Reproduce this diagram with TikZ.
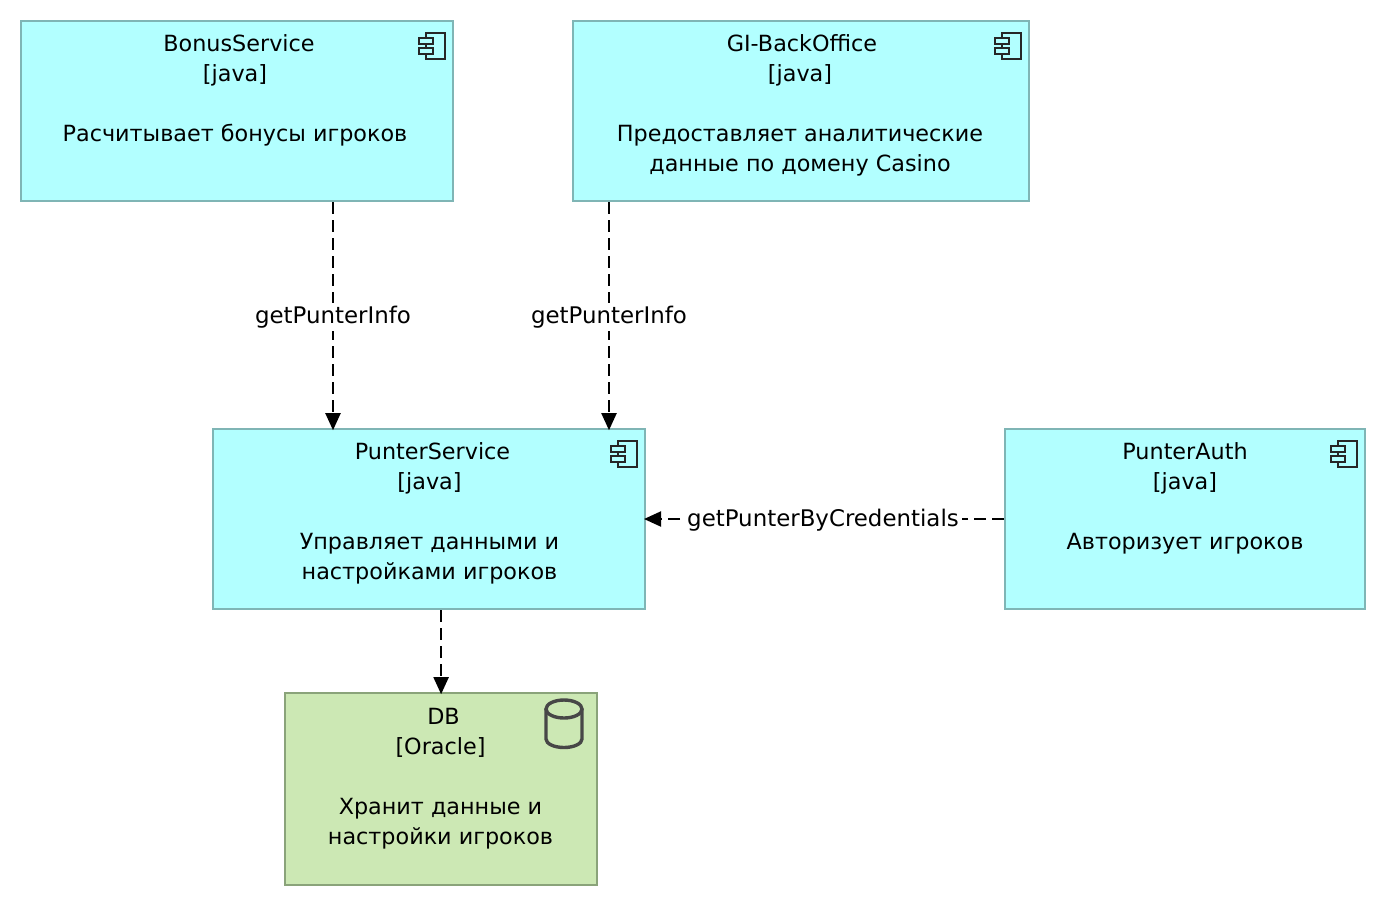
\documentclass[tikz,border=0pt]{standalone}
\usepackage{fontspec}
\usetikzlibrary{arrows.meta}
\setmainfont{DejaVu Sans}
\begin{document}
\begin{tikzpicture}[x=1pt,y=-1pt,
  box/.style={draw=#1,line width=1.8pt,anchor=north west,inner sep=0pt},
  svc/.style={box=svcline,fill=svcfill},
  dbb/.style={box=dbline,fill=dbfill},
  txt/.style={anchor=north,align=center,inner sep=0pt,font=\fontsize{22.3}{30}\selectfont},
  lab/.style={fill=white,inner sep=3pt,font=\fontsize{22.9}{26}\selectfont},
  conn/.style={dash pattern=on 12pt off 6pt,line width=2pt,shorten >=-2pt,-{Triangle[length=17pt,width=15pt]}},
  ico/.style={line width=2pt,draw=black!85}
]
\definecolor{svcfill}{HTML}{B2FFFF}
\definecolor{svcline}{HTML}{7FB5B5}
\definecolor{dbfill}{HTML}{CCE8B4}
\definecolor{dbline}{HTML}{8AA37A}
\useasboundingbox (0,0) rectangle (1386,906);
\fill[white] (0,0) rectangle (1386,906);
\node[svc,minimum width=432pt,minimum height=180pt] (bonus) at (20.2,20.2) {};
\node[svc,minimum width=456pt,minimum height=180pt] (gi) at (572.2,20.2) {};
\node[svc,minimum width=432pt,minimum height=180pt] (punter) at (212.2,428.2) {};
\node[svc,minimum width=360pt,minimum height=180pt] (auth) at (1004.2,428.2) {};
\node[dbb,minimum width=312pt,minimum height=192pt] (db) at (284.2,692.2) {};
\node[txt] (tbonus) at (235,34) {\hspace*{8pt}BonusService\\{}[java]\\[30pt]Расчитывает бонусы игроков};
\node[txt] (tgi) at (800,34) {\hspace*{4pt}GI-BackOffice\\{}[java]\\[30pt]Предоставляет аналитические\\данные по домену Casino};
\node[txt] (tpunter) at (429.5,442) {\hspace*{6pt}PunterService\\{}[java]\\[30pt]Управляет данными и\\настройками игроков};
\node[txt] (tauth) at (1185,442) {PunterAuth\\{}[java]\\[30pt]Авторизует игроков};
\node[txt] (tdb) at (440.5,708) {\hspace*{6pt}DB\\{}[Oracle]\\[30pt]Хранит данные и\\настройки игроков};
\coordinate (c1) at (333,316);
\coordinate (c2) at (609,316);
\coordinate (c3) at (823,519);
\draw[conn] (bonus.south -| c1) -- (punter.north -| c1);
\draw[conn] (gi.south -| c2) -- (punter.north -| c2);
\draw[conn] (auth.west |- c3) -- (punter.east |- c3);
\draw[conn] (punter.south -| db.north) -- (db.north);
\node[lab,yshift=-1pt] (l1) at (c1) {getPunterInfo};
\node[lab,yshift=-1pt] (l2) at (c2) {getPunterInfo};
\node[lab,yshift=-1pt] (l3) at (c3) {getPunterByCredentials};
% component icons
\foreach \n/\x/\y in {a/418/32,b/994/32,c/610/440,d/1330/440}{
  \draw[ico] (\x+8,\y+1) -- (\x+27,\y+1) -- (\x+27,\y+27) -- (\x+8,\y+27) -- cycle;
  \filldraw[ico,fill=svcfill] (\x+1,\y+6) rectangle (\x+15,\y+12);
  \filldraw[ico,fill=svcfill] (\x+1,\y+16) rectangle (\x+15,\y+22);
}
% database icon
\draw[line width=3.4pt,draw=black!72] (546,709) -- (546,739) arc[start angle=180,end angle=360,x radius=18pt,y radius=8.5pt] -- (582,709);
\draw[line width=3.4pt,draw=black!72] (564,709) ellipse[x radius=18pt,y radius=9pt];
\end{tikzpicture}
\end{document}
